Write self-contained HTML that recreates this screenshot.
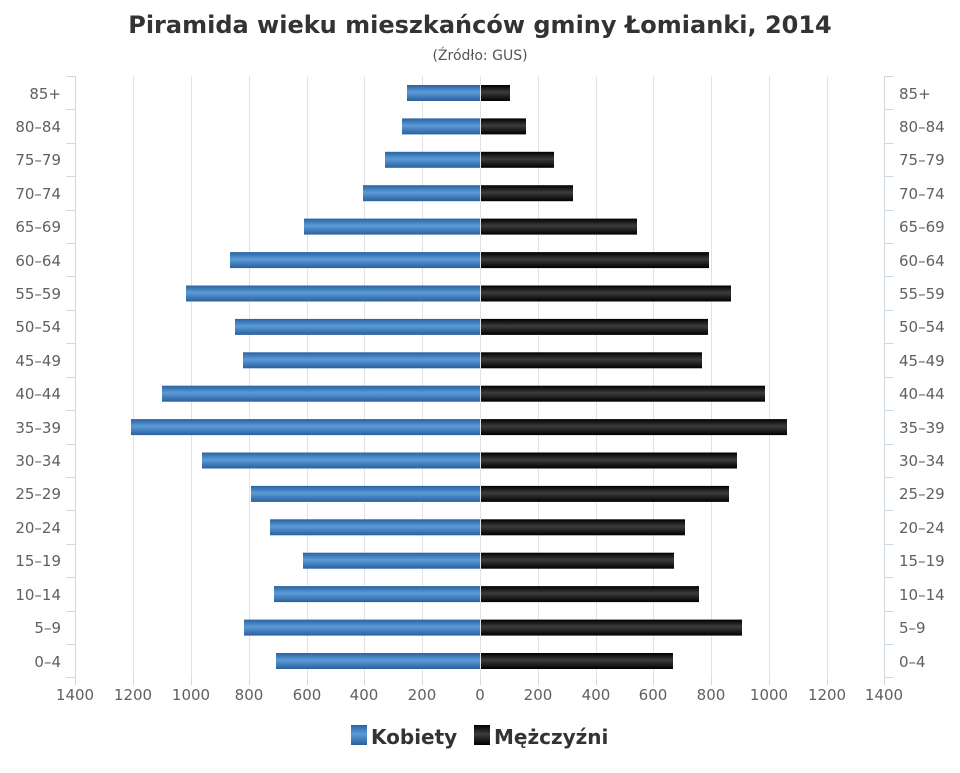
<!DOCTYPE html>
<html><head><meta charset="utf-8"><style>
html,body{margin:0;padding:0;background:#fff}
svg text{font-family:"DejaVu Sans","Liberation Sans",sans-serif}
</style></head><body>
<svg width="960" height="768" viewBox="0 0 960 768" xmlns="http://www.w3.org/2000/svg">
<defs>
<linearGradient id="b" x1="0" y1="0" x2="0" y2="1"><stop offset="0" stop-color="#2a62a0"/><stop offset="0.45" stop-color="#5b9bd9"/><stop offset="1" stop-color="#2a5f9c"/></linearGradient>
<linearGradient id="k" x1="0" y1="0" x2="0" y2="1"><stop offset="0" stop-color="#000"/><stop offset="0.45" stop-color="#3c3c3c"/><stop offset="1" stop-color="#000"/></linearGradient>
</defs>
<text x="480" y="33" text-anchor="middle" font-size="24" font-weight="bold" fill="#333">Piramida wieku mieszkańców gminy Łomianki, 2014</text>
<text x="480" y="60" text-anchor="middle" font-size="14" fill="#555">(Źródło: GUS)</text>
<g stroke="#e2e2e2" stroke-width="1">
<line x1="133.5" y1="76" x2="133.5" y2="678"/><line x1="191.5" y1="76" x2="191.5" y2="678"/><line x1="249.5" y1="76" x2="249.5" y2="678"/><line x1="307.5" y1="76" x2="307.5" y2="678"/><line x1="364.5" y1="76" x2="364.5" y2="678"/><line x1="422.5" y1="76" x2="422.5" y2="678"/><line x1="480.5" y1="76" x2="480.5" y2="678"/><line x1="538.5" y1="76" x2="538.5" y2="678"/><line x1="596.5" y1="76" x2="596.5" y2="678"/><line x1="653.5" y1="76" x2="653.5" y2="678"/><line x1="711.5" y1="76" x2="711.5" y2="678"/><line x1="769.5" y1="76" x2="769.5" y2="678"/><line x1="827.5" y1="76" x2="827.5" y2="678"/>
</g>
<g stroke="#cfd8e0" stroke-width="1">
<line x1="75.5" y1="76" x2="75.5" y2="678"/><line x1="884.5" y1="76" x2="884.5" y2="678"/>
<path d="M66 76.5H75M66 109.5H75M66 143.5H75M66 176.5H75M66 210.5H75M66 243.5H75M66 276.5H75M66 310.5H75M66 343.5H75M66 377.5H75M66 410.5H75M66 444.5H75M66 477.5H75M66 510.5H75M66 544.5H75M66 577.5H75M66 611.5H75M66 644.5H75M66 677.5H75"/>
<path d="M884 76.5H893M884 109.5H893M884 143.5H893M884 176.5H893M884 210.5H893M884 243.5H893M884 276.5H893M884 310.5H893M884 343.5H893M884 377.5H893M884 410.5H893M884 444.5H893M884 477.5H893M884 510.5H893M884 544.5H893M884 577.5H893M884 611.5H893M884 644.5H893M884 677.5H893"/>
<path d="M75.5 678V685M133.5 678V685M191.5 678V685M249.5 678V685M307.5 678V685M364.5 678V685M422.5 678V685M480.5 678V685M538.5 678V685M596.5 678V685M653.5 678V685M711.5 678V685M769.5 678V685M827.5 678V685M884.5 678V685"/>
</g>
<g fill="url(#b)">
<rect x="407" y="85" width="73" height="16"/><rect x="402" y="118.4" width="78" height="16"/><rect x="385" y="151.8" width="95" height="16"/><rect x="363" y="185.2" width="117" height="16"/><rect x="304" y="218.6" width="176" height="16"/><rect x="230" y="252.1" width="250" height="16"/><rect x="186" y="285.5" width="294" height="16"/><rect x="235" y="318.9" width="245" height="16"/><rect x="243" y="352.3" width="237" height="16"/><rect x="162" y="385.7" width="318" height="16"/><rect x="131" y="419.1" width="349" height="16"/><rect x="202" y="452.5" width="278" height="16"/><rect x="251" y="485.9" width="229" height="16"/><rect x="270" y="519.3" width="210" height="16"/><rect x="303" y="552.7" width="177" height="16"/><rect x="274" y="586.1" width="206" height="16"/><rect x="244" y="619.6" width="236" height="16"/><rect x="276" y="653" width="204" height="16"/>
</g>
<g fill="url(#k)">
<rect x="481" y="85" width="29" height="16"/><rect x="481" y="118.4" width="45" height="16"/><rect x="481" y="151.8" width="73" height="16"/><rect x="481" y="185.2" width="92" height="16"/><rect x="481" y="218.6" width="156" height="16"/><rect x="481" y="252.1" width="228" height="16"/><rect x="481" y="285.5" width="250" height="16"/><rect x="481" y="318.9" width="227" height="16"/><rect x="481" y="352.3" width="221" height="16"/><rect x="481" y="385.7" width="284" height="16"/><rect x="481" y="419.1" width="306" height="16"/><rect x="481" y="452.5" width="256" height="16"/><rect x="481" y="485.9" width="248" height="16"/><rect x="481" y="519.3" width="204" height="16"/><rect x="481" y="552.7" width="193" height="16"/><rect x="481" y="586.1" width="218" height="16"/><rect x="481" y="619.6" width="261" height="16"/><rect x="481" y="653" width="192" height="16"/>
</g>
<g font-size="15" fill="#606060" text-anchor="end">
<text x="61" y="99">85+</text><text x="61" y="132">80–84</text><text x="61" y="165">75–79</text><text x="61" y="199">70–74</text><text x="61" y="232">65–69</text><text x="61" y="266">60–64</text><text x="61" y="299">55–59</text><text x="61" y="332">50–54</text><text x="61" y="366">45–49</text><text x="61" y="399">40–44</text><text x="61" y="433">35–39</text><text x="61" y="466">30–34</text><text x="61" y="499">25–29</text><text x="61" y="533">20–24</text><text x="61" y="566">15–19</text><text x="61" y="600">10–14</text><text x="61" y="633">5–9</text><text x="61" y="667">0–4</text>
</g>
<g font-size="15" fill="#606060">
<text x="899" y="99">85+</text><text x="899" y="132">80–84</text><text x="899" y="165">75–79</text><text x="899" y="199">70–74</text><text x="899" y="232">65–69</text><text x="899" y="266">60–64</text><text x="899" y="299">55–59</text><text x="899" y="332">50–54</text><text x="899" y="366">45–49</text><text x="899" y="399">40–44</text><text x="899" y="433">35–39</text><text x="899" y="466">30–34</text><text x="899" y="499">25–29</text><text x="899" y="533">20–24</text><text x="899" y="566">15–19</text><text x="899" y="600">10–14</text><text x="899" y="633">5–9</text><text x="899" y="667">0–4</text>
</g>
<g font-size="15" fill="#606060" text-anchor="middle">
<text x="75" y="700">1400</text><text x="133" y="700">1200</text><text x="191" y="700">1000</text><text x="249" y="700">800</text><text x="307" y="700">600</text><text x="364" y="700">400</text><text x="422" y="700">200</text><text x="480" y="700">0</text><text x="538" y="700">200</text><text x="596" y="700">400</text><text x="653" y="700">600</text><text x="711" y="700">800</text><text x="769" y="700">1000</text><text x="827" y="700">1200</text><text x="884" y="700">1400</text>
</g>
<rect x="351" y="725" width="16" height="20" fill="url(#b)"/>
<text x="371" y="744" font-size="20" font-weight="bold" fill="#333">Kobiety</text>
<rect x="474" y="725" width="16" height="20" fill="url(#k)"/>
<text x="494" y="744" font-size="20" font-weight="bold" fill="#333">Mężczyźni</text>
</svg>
</body></html>
